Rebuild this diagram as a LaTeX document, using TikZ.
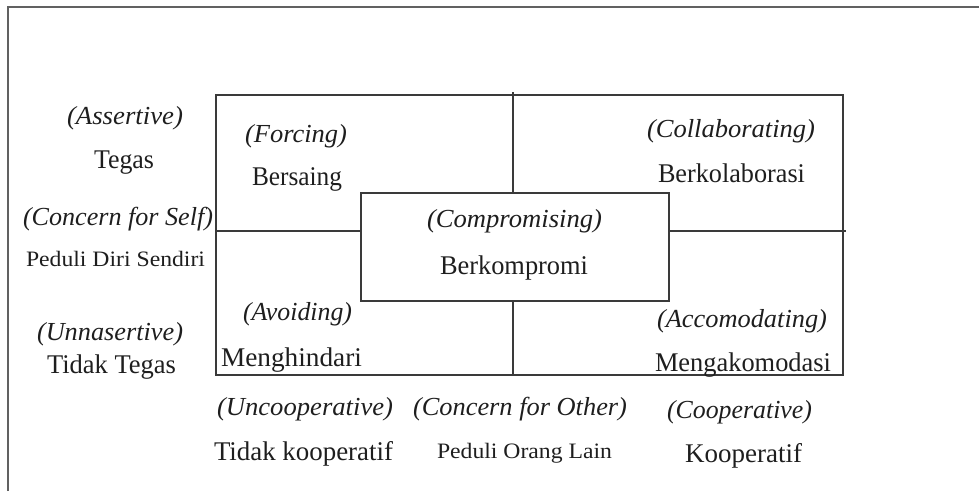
\documentclass[tikz,border=0pt]{standalone}
\usepackage{fontspec}
\setmainfont{Liberation Serif}
\usepackage{graphicx}
\newcommand\fitw[2]{\resizebox{#1pt}{\height}{#2}}
\definecolor{linec}{HTML}{3A3A3A}
\definecolor{textc}{HTML}{1E1E1E}
\begin{document}
\begin{tikzpicture}[x=1pt,y=-1pt,
  frame/.style={line width=1.6pt,draw=linec},
  lbl/.style={anchor=base west,inner sep=0pt,outer sep=0pt,text=textc},
  itl/.style={lbl,font=\fontsize{26}{30}\selectfont\itshape},
  rml/.style={lbl,font=\fontsize{27}{31}\selectfont},
  sml/.style={lbl,font=\fontsize{22}{26}\selectfont}]
\useasboundingbox (0,0) rectangle (979,491);
% outer border
\draw[line width=2pt,draw=linec!80] (8,491) -- (8,7) -- (979,7);
% quadrant frame
\draw[frame] (216,95) rectangle (843,375);
\draw[frame] (513,92) -- (513,375);
\draw[frame,line width=1.3pt] (216,231) -- (846,231);
% compromise box
\draw[frame,fill=white] (361,193) rectangle (669,301);
% left labels
\node[itl] (assert) at (67,124) {\fitw{116}{(Assertive)}};
\node[rml] (tegas) at (94,168) {\fitw{60}{Tegas}};
\node[itl] (cself) at (23,225) {\fitw{190}{(Concern for Self)}};
\node[sml] (pself) at (26,266) {\fitw{179}{Peduli Diri Sendiri}};
\node[itl] (unass) at (37,340) {\fitw{146}{(Unnasertive)}};
\node[rml] (ttegas) at (47,373) {\fitw{129}{Tidak Tegas}};
% quadrant labels
\node[itl] (forcing) at (245,142) {\fitw{102}{(Forcing)}};
\node[rml] (bersaing) at (252,185) {\fitw{90}{Bersaing}};
\node[itl] (collab) at (647,137) {\fitw{168}{(Collaborating)}};
\node[rml] (berkol) at (658,182) {\fitw{147}{Berkolaborasi}};
\node[itl] (comprom) at (427,227) {\fitw{175}{(Compromising)}};
\node[rml] (berkom) at (440,274) {\fitw{148}{Berkompromi}};
\node[itl] (avoid) at (243,320) {\fitw{109}{(Avoiding)}};
\node[rml] (mengh) at (221,366) {\fitw{141}{Menghindari}};
\node[itl] (accom) at (657,327) {\fitw{170}{(Accomodating)}};
\node[rml] (mengak) at (655,371) {\fitw{176}{Mengakomodasi}};
% bottom labels
\node[itl] (uncoop) at (217,415) {\fitw{176}{(Uncooperative)}};
\node[itl] (cother) at (413,415) {\fitw{214}{(Concern for Other)}};
\node[itl] (coop) at (667,418) {\fitw{145}{(Cooperative)}};
\node[rml] (tkoop) at (214,460) {\fitw{179}{Tidak kooperatif}};
\node[sml] (porang) at (437,458) {\fitw{175}{Peduli Orang Lain}};
\node[rml] (koop) at (685,462) {\fitw{117}{Kooperatif}};
\end{tikzpicture}
\end{document}
